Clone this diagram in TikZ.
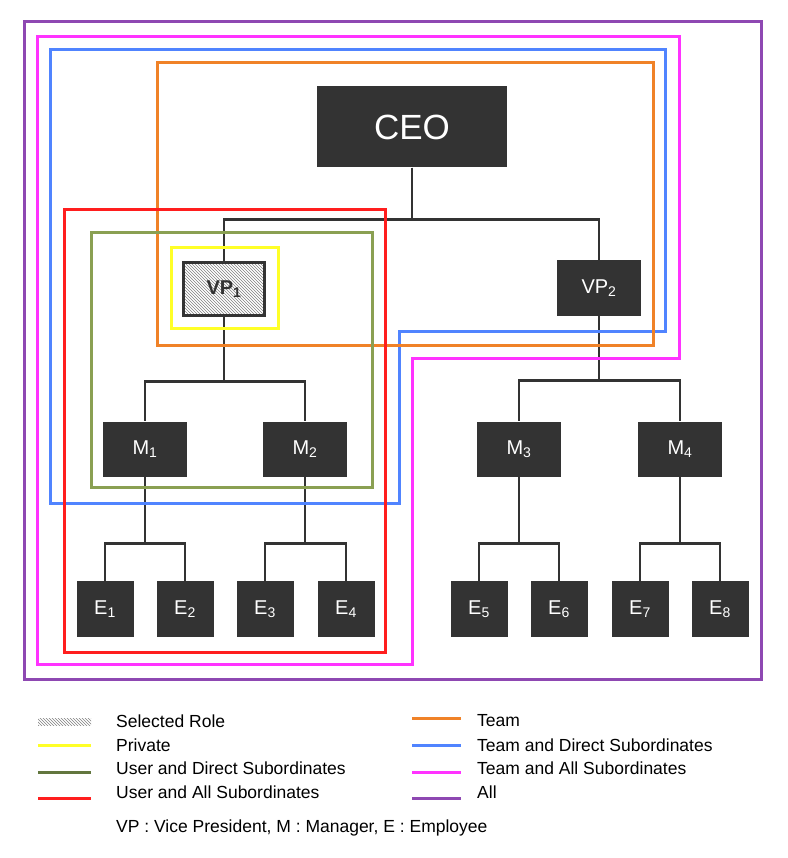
\documentclass[tikz,border=0pt]{standalone}
\usepackage{fontspec}
\setmainfont{Liberation Sans}
\usetikzlibrary{patterns}

\definecolor{boxgray}{RGB}{51,51,51}
\definecolor{allc}{RGB}{142,72,178}
\definecolor{teamallc}{RGB}{255,51,255}
\definecolor{teamdirc}{RGB}{80,132,255}
\definecolor{teamc}{RGB}{240,130,40}
\definecolor{userallc}{RGB}{255,30,30}
\definecolor{userdirc}{RGB}{138,160,82}
\definecolor{userdirdark}{RGB}{98,118,62}
\definecolor{privc}{RGB}{255,255,40}

\begin{document}
\begin{tikzpicture}[x=1pt,y=-1pt,
  role/.style={fill=boxgray,text=white,minimum width=84,minimum height=55,inner sep=0,
    font=\fontsize{20}{22}\selectfont},
  emp/.style={role,minimum width=57,minimum height=56},
  link/.style={draw=boxgray,line width=2.6},
  frame/.style={line width=3},
  legtext/.style={anchor=west,inner sep=0,font=\fontsize{17.5}{19}\selectfont}]

\useasboundingbox (0,0) rectangle (787,858);

% roles
\node[role,minimum width=190,minimum height=81,font=\fontsize{35}{38}\selectfont] (ceo) at (412,127) {CEO};
\node[role,draw=boxgray,line width=3,pattern=north west lines,pattern color=gray,text=boxgray,
  minimum width=81,minimum height=52,font=\fontsize{20}{22}\selectfont\bfseries] (vp1) at (224,289) {VP\textsubscript{1}};
\node[role] (vp2) at (599,288) {VP\textsubscript{2}};

\node[role] (m1) at (145,449) {M\textsubscript{1}};
\node[role] (m2) at (305,449) {M\textsubscript{2}};
\node[role] (m3) at (519,449) {M\textsubscript{3}};
\node[role] (m4) at (680,449) {M\textsubscript{4}};

\node[emp] (e1) at (105,609) {E\textsubscript{1}};
\node[emp] (e2) at (185,609) {E\textsubscript{2}};
\node[emp] (e3) at (265,609) {E\textsubscript{3}};
\node[emp] (e4) at (346,609) {E\textsubscript{4}};
\node[emp] (e5) at (479,609) {E\textsubscript{5}};
\node[emp] (e6) at (559,609) {E\textsubscript{6}};
\node[emp] (e7) at (640,609) {E\textsubscript{7}};
\node[emp] (e8) at (720,609) {E\textsubscript{8}};

% tree
\draw[link] (ceo.south) -- ++(0,52) -| (vp1.north);
\draw[link] (ceo.south) -- ++(0,52) -| (vp2.north);
\draw[link] (vp1.south) -- ++(0,65) -| (m1.north);
\draw[link] (vp1.south) -- ++(0,65) -| (m2.north);
\draw[link] (vp2.south) -- ++(0,65) -| (m3.north);
\draw[link] (vp2.south) -- ++(0,65) -| (m4.north);
\draw[link] (m1.south) -- ++(0,67) -| (e1.north);
\draw[link] (m1.south) -- ++(0,67) -| (e2.north);
\draw[link] (m2.south) -- ++(0,67) -| (e3.north);
\draw[link] (m2.south) -- ++(0,67) -| (e4.north);
\draw[link] (m3.south) -- ++(0,67) -| (e5.north);
\draw[link] (m3.south) -- ++(0,67) -| (e6.north);
\draw[link] (m4.south) -- ++(0,67) -| (e7.north);
\draw[link] (m4.south) -- ++(0,67) -| (e8.north);

% scopes
\draw[frame,allc] (24,22) rectangle (761,679);
\draw[frame,teamallc] (37,37) -- (679,37) -- (679,358) -- (412,358) -- (412,664) -- (37,664) -- cycle;
\draw[frame,teamdirc] (50,50) -- (665,50) -- (665,331) -- (399,331) -- (399,503) -- (50,503) -- cycle;
\draw[frame,teamc] (157,63) rectangle (653,345);
\draw[frame,userallc] (64,210) rectangle (385,652);
\draw[frame,userdirc] (91,233) rectangle (372,487);
\draw[frame,privc] (171,248) rectangle (278,328);

% legend
\fill[pattern=north west lines,pattern color=gray] (38,718) rectangle (91,725);
\draw[frame,privc] (38,745) -- (91,745);
\draw[frame,userdirdark] (38,772) -- (91,772);
\draw[frame,userallc] (38,798) -- (91,798);
\draw[frame,teamc] (412,718) -- (461,718);
\draw[frame,teamdirc] (412,745) -- (461,745);
\draw[frame,teamallc] (412,772) -- (461,772);
\draw[frame,allc] (412,798) -- (461,798);

\node[legtext] (l1) at (116,721) {Selected Role};
\node[legtext] (l2) at (116,745) {Private};
\node[legtext] (l3) at (116,768) {User and Direct Subordinates};
\node[legtext] (l4) at (116,792) {User and All Subordinates};
\node[legtext] (l5) at (477,721) {Team};
\node[legtext] (l6) at (477,745) {Team and Direct Subordinates};
\node[legtext] (l7) at (477,768) {Team and All Subordinates};
\node[legtext] (l8) at (477,792) {All};
\node[legtext] (note) at (116,828) {VP : Vice President, M : Manager, E : Employee};

\end{tikzpicture}
\end{document}
